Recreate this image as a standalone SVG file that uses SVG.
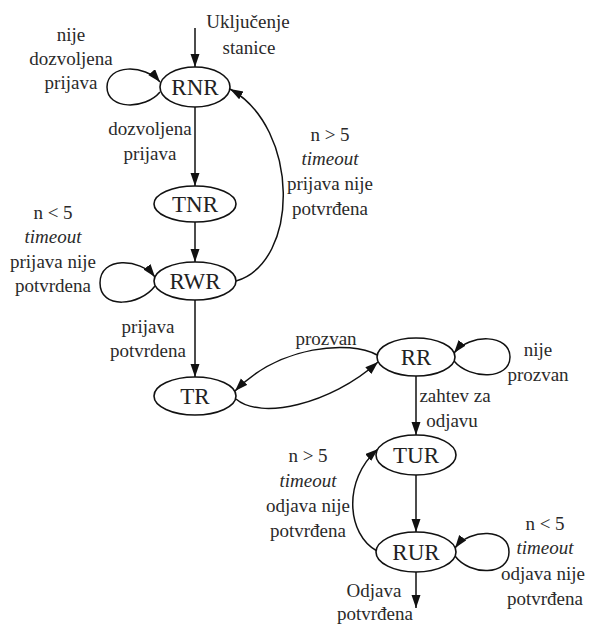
<svg xmlns="http://www.w3.org/2000/svg" width="590" height="626" viewBox="0 0 590 626">
  <style>
    .state { fill: #fff; stroke: #111; stroke-width: 1.6; }
    .state-label { font-size: 23px; fill: #222; text-anchor: middle; }
    .edge { fill: none; stroke: #111; stroke-width: 1.5; marker-end: url(#arrow); }
    .lbl { font-size: 19px; fill: #2a2a2a; text-anchor: middle; }
    .it { font-style: italic; }
  </style>
  <defs>
    <marker id="arrow" markerWidth="13" markerHeight="10" refX="13" refY="4.5" orient="auto" markerUnits="userSpaceOnUse">
      <path d="M0,0 L13,4.5 L0,9 z" fill="#111"/>
    </marker>
  </defs>
  <rect width="590" height="626" fill="#fff"/>

  <!-- transitions -->
  <g id="connectors">
    <path class="edge" d="M195,28 L195,67"/>
    <path class="edge" d="M160,92 C145,110 107,110 107,87 C107,64 145,64 160,82"/>
    <path class="edge" d="M195,107 L195,186"/>
    <path class="edge" d="M195,222 L195,262"/>
    <path class="edge" d="M155,286 C140,306 100,310 100,283 C100,256 140,258 155,277"/>
    <path class="edge" d="M236,281 C300,262 300,128 230,89"/>
    <path class="edge" d="M195,300 L195,377"/>
    <path class="edge" d="M377,355 C350,340 280,345 235,391"/>
    <path class="edge" d="M236,399 C260,420 330,405 378,362"/>
    <path class="edge" d="M454,361 C470,380 510,380 510,357 C510,334 470,333 454,353"/>
    <path class="edge" d="M416,376 L416,435"/>
    <path class="edge" d="M416,475 L416,532"/>
    <path class="edge" d="M377,551 C347,535 342,480 378,449"/>
    <path class="edge" d="M455,556 C470,576 509,576 509,552 C509,528 470,528 455,548"/>
    <path class="edge" d="M416,572 L416,608"/>
  </g>

  <!-- transition labels -->
  <g id="labels" font-family="'Liberation Serif', 'Times New Roman', serif">
    <text class="lbl" x="248" y="28">Uključenje</text>
    <text class="lbl" x="249" y="54">stanice</text>

    <text class="lbl" x="71" y="41">nije</text>
    <text class="lbl" x="71" y="65">dozvoljena</text>
    <text class="lbl" x="71" y="89">prijava</text>

    <text class="lbl" x="150" y="135">dozvoljena</text>
    <text class="lbl" x="150" y="160">prijava</text>

    <text class="lbl" x="330" y="141">n &gt; 5</text>
    <text class="lbl it" x="330" y="165">timeout</text>
    <text class="lbl" x="330" y="190">prijava nije</text>
    <text class="lbl" x="330" y="215">potvrđena</text>

    <text class="lbl" x="53" y="219">n &lt; 5</text>
    <text class="lbl it" x="53" y="243">timeout</text>
    <text class="lbl" x="53" y="268">prijava nije</text>
    <text class="lbl" x="53" y="292">potvrdena</text>

    <text class="lbl" x="148" y="333">prijava</text>
    <text class="lbl" x="148" y="357">potvrdena</text>

    <text class="lbl" x="326" y="345">prozvan</text>

    <text class="lbl" x="538" y="356">nije</text>
    <text class="lbl" x="538" y="381">prozvan</text>

    <text class="lbl" x="455" y="402">zahtev za</text>
    <text class="lbl" x="452" y="427">odjavu</text>

    <text class="lbl" x="308" y="462">n &gt; 5</text>
    <text class="lbl it" x="308" y="487">timeout</text>
    <text class="lbl" x="308" y="512">odjava nije</text>
    <text class="lbl" x="308" y="537">potvrđena</text>

    <text class="lbl" x="545" y="530">n &lt; 5</text>
    <text class="lbl it" x="545" y="554">timeout</text>
    <text class="lbl" x="543" y="580">odjava nije</text>
    <text class="lbl" x="545" y="605">potvrđena</text>

    <text class="lbl" x="374" y="597">Odjava</text>
    <text class="lbl" x="375" y="620">potvrđena</text>
  </g>

  <!-- states -->
  <g font-family="'Liberation Serif', 'Times New Roman', serif">
    <g id="RNR">
      <ellipse class="state" cx="195" cy="87" rx="35" ry="20"/>
      <text class="state-label" x="195" y="95">RNR</text>
    </g>
    <g id="TNR">
      <ellipse class="state" cx="195" cy="204" rx="41" ry="18"/>
      <text class="state-label" x="195" y="212">TNR</text>
    </g>
    <g id="RWR">
      <ellipse class="state" cx="195" cy="281" rx="41" ry="19"/>
      <text class="state-label" x="195" y="289">RWR</text>
    </g>
    <g id="TR">
      <ellipse class="state" cx="195" cy="396" rx="41" ry="19"/>
      <text class="state-label" x="195" y="404">TR</text>
    </g>
    <g id="RR">
      <ellipse class="state" cx="416" cy="357" rx="39" ry="19"/>
      <text class="state-label" x="416" y="365">RR</text>
    </g>
    <g id="TUR">
      <ellipse class="state" cx="416" cy="455" rx="40" ry="20"/>
      <text class="state-label" x="416" y="463">TUR</text>
    </g>
    <g id="RUR">
      <ellipse class="state" cx="416" cy="552" rx="40" ry="20"/>
      <text class="state-label" x="416" y="560">RUR</text>
    </g>
  </g>
</svg>
